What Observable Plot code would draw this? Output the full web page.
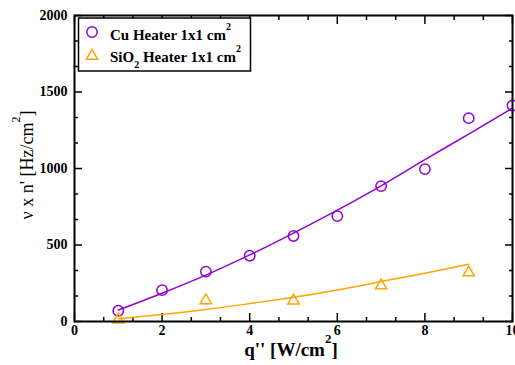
<!DOCTYPE html>
<html>
<head>
<meta charset="utf-8">
<script src="https://cdn.jsdelivr.net/npm/d3@7"></script>
<script src="https://cdn.jsdelivr.net/npm/@observablehq/plot@0.6"></script>
<style>
  html, body { margin: 0; padding: 0; background: white; }
  #chart { width: 515px; height: 365px; }
</style>
</head>
<body>
<div id="chart"></div>
<script>
// Measured points: Cu heater (circles)
const qCu = [1, 2, 3, 4, 5, 6, 7, 8, 9, 10];
const nuCu = [70, 205, 326, 430, 559, 689, 885, 996, 1329, 1412];
// Measured points: SiO2 heater (triangles)
const qSiO2 = [1, 3, 5, 7, 9];
const nuSiO2 = [12, 138, 136, 235, 320];
// Fit curves
const qFitCu = [1, 2, 3, 4, 5, 6, 7, 8, 9, 10];
const nuFitCu = [75, 185, 303, 435, 578, 728, 887, 1058, 1225, 1395];
const qFitSiO2 = [1, 2, 3, 4, 5, 6, 7, 8, 9];
const nuFitSiO2 = [18, 45, 78, 117, 158, 206, 261, 316, 374];
// Ticks
const xMajor = [0, 2, 4, 6, 8, 10];
const xMinor = [2/3, 4/3, 8/3, 10/3, 14/3, 16/3, 20/3, 22/3, 26/3, 28/3];
const yMajor = [0, 500, 1000, 1500, 2000];
const yMinor = [500/3, 1000/3, 2000/3, 2500/3, 3500/3, 4000/3, 5000/3, 5500/3];
// Legend labels and titles
const legendCu = ["Cu Heater 1x1 cm", "2"];
const legendSiO2 = ["SiO", "2", " Heater 1x1 cm", "2"];
const xTitle = ["q'' [W/cm", "2", "]"];
const yTitle = ["ν x n' [Hz/cm", "2", "]"];

const violet = "#9400d3";
const orange = "#ffa500";

const cu = qCu.map((q, i) => ({q, nu: nuCu[i]}));
const si = qSiO2.map((q, i) => ({q, nu: nuSiO2[i]}));
const fitCu = qFitCu.map((q, i) => ({q, nu: nuFitCu[i]}));
const fitSi = qFitSiO2.map((q, i) => ({q, nu: nuFitSiO2[i]}));

const tickStyle = {stroke: "black", strokeWidth: 1.5, label: null};

const svg = Plot.plot({
  width: 515,
  height: 365,
  marginLeft: 74,
  marginRight: 3,
  marginTop: 15,
  marginBottom: 44,
  style: {background: "white", fontFamily: "'Liberation Serif', 'Times New Roman', serif", fontSize: "14px", fontWeight: "bold", color: "black"},
  x: {domain: [0, 10]},
  y: {domain: [0, 2000]},
  marks: [
    Plot.axisX(xMajor, {...tickStyle, anchor: "bottom", tickSize: -8, tickPadding: 12, tickFormat: d => String(d)}),
    Plot.axisX(xMinor, {...tickStyle, anchor: "bottom", tickSize: -4, fill: "none"}),
    Plot.axisX(xMajor, {...tickStyle, anchor: "top", tickSize: -8, fill: "none"}),
    Plot.axisX(xMinor, {...tickStyle, anchor: "top", tickSize: -4, fill: "none"}),
    Plot.axisY(yMajor, {...tickStyle, anchor: "left", tickSize: -8, tickPadding: 15, tickFormat: d => String(d)}),
    Plot.axisY(yMinor, {...tickStyle, anchor: "left", tickSize: -4, fill: "none"}),
    Plot.axisY(yMajor, {...tickStyle, anchor: "right", tickSize: -8, fill: "none"}),
    Plot.axisY(yMinor, {...tickStyle, anchor: "right", tickSize: -4, fill: "none"}),
    Plot.line(fitCu, {x: "q", y: "nu", stroke: violet, strokeWidth: 1.5, curve: "monotone-x"}),
    Plot.line(fitSi, {x: "q", y: "nu", stroke: orange, strokeWidth: 1.5, curve: "monotone-x"}),
    Plot.dot(cu, {x: "q", y: "nu", symbol: "circle", r: 5.2, stroke: violet, strokeWidth: 1.5, fill: "none"}),
    Plot.dot(si, {x: "q", y: "nu", symbol: "triangle", r: 4.2, stroke: orange, strokeWidth: 1.5, fill: "none"}),
    Plot.frame({stroke: "black", strokeWidth: 2})
  ]
});
document.getElementById("chart").appendChild(svg);

const root = d3.select(svg);
const serif = "'Liberation Serif', 'Times New Roman', serif";

// X axis title
const xt = root.append("text")
  .attr("x", 291).attr("y", 356)
  .attr("text-anchor", "middle")
  .attr("font-family", serif).attr("font-size", 19).attr("font-weight", "bold")
  .attr("fill", "black");
xt.append("tspan").text(xTitle[0]);
xt.append("tspan").attr("dy", -13).attr("font-size", 13).text(xTitle[1]);
xt.append("tspan").attr("dy", 13).text(xTitle[2]);

// Y axis title
const yt = root.append("text")
  .attr("transform", "translate(33,165) rotate(-90)")
  .attr("text-anchor", "middle")
  .attr("font-family", serif).attr("font-size", 18).attr("font-weight", "normal")
  .attr("fill", "black");
yt.append("tspan").text(yTitle[0]);
yt.append("tspan").attr("dy", -13).attr("font-size", 12).text(yTitle[1]);
yt.append("tspan").attr("dy", 13).text(yTitle[2]);

// Legend
const lg = root.append("g");
lg.append("rect").attr("x", 78.5).attr("y", 18).attr("width", 172).attr("height", 53)
  .attr("fill", "white").attr("stroke", "black").attr("stroke-width", 1.5);
lg.append("path").attr("transform", "translate(92,32)")
  .attr("d", d3.symbol(d3.symbolCircle, Math.PI * 5.2 * 5.2)())
  .attr("fill", "none").attr("stroke", violet).attr("stroke-width", 1.5);
lg.append("path").attr("transform", "translate(92,56)")
  .attr("d", d3.symbol(d3.symbolTriangle, Math.PI * 4.2 * 4.2)())
  .attr("fill", "none").attr("stroke", orange).attr("stroke-width", 1.5);
const t1 = lg.append("text").attr("x", 110).attr("y", 40).attr("text-anchor", "start")
  .attr("font-family", serif).attr("font-size", 15).attr("font-weight", "bold").attr("fill", "black");
t1.append("tspan").text(legendCu[0]);
t1.append("tspan").attr("dy", -10).attr("font-size", 10).text(legendCu[1]);
const t2 = lg.append("text").attr("x", 110).attr("y", 62).attr("text-anchor", "start")
  .attr("font-family", serif).attr("font-size", 15).attr("font-weight", "bold").attr("fill", "black");
t2.append("tspan").text(legendSiO2[0]);
t2.append("tspan").attr("dy", 6).attr("font-size", 10).text(legendSiO2[1]);
t2.append("tspan").attr("dy", -6).text(legendSiO2[2]);
t2.append("tspan").attr("dy", -10).attr("font-size", 10).text(legendSiO2[3]);
</script>
</body>
</html>
